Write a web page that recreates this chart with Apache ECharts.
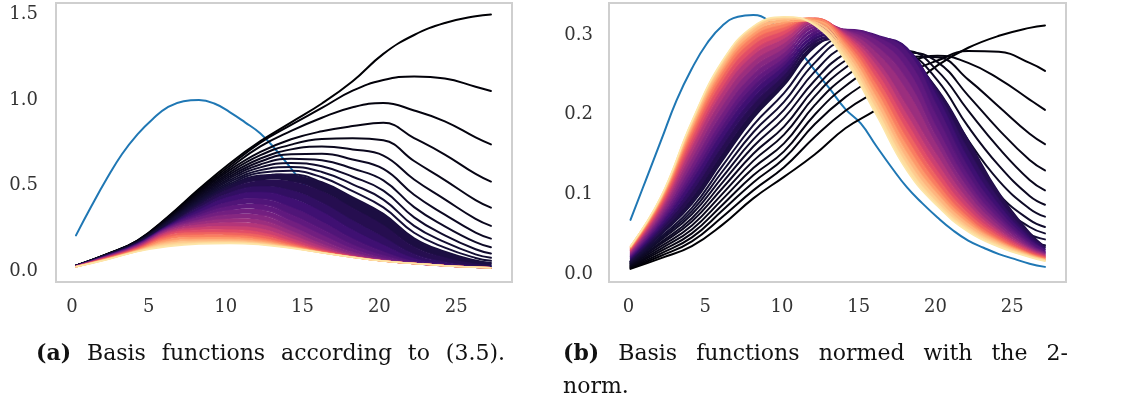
<!DOCTYPE html>
<html>
<head>
<meta charset="utf-8">
<script src="https://cdn.jsdelivr.net/npm/echarts@6/dist/echarts.min.js"></script>
<style>
  html, body { margin: 0; padding: 0; background: #ffffff; }
  #chart { width: 1122px; height: 408px; }
</style>
</head>
<body>
<div id="chart"></div>
<script>
// ---- data -------------------------------------------------------------

// horizontal sample positions of the basis functions
const knots = [0, 2, 4, 6, 8, 10, 12, 14, 16, 18, 20, 22, 24, 26, 27];

// reference bump (blue), sampled on the integers 0..27
const blueX = [0,1,2,3,4,5,6,7,8,9,10,11,12,13,14,15,16,17,18,19,20,21,22,23,24,25,26,27];
const blueRaw = [0.21,0.38,0.54,0.685,0.80,0.89,0.96,0.993,1.0,0.98,0.93,0.87,0.805,0.71,0.60,0.49,0.41,0.35,0.29,0.235,0.19,0.15,0.12,0.095,0.075,0.058,0.042,0.03];
const blueNormed = [0.068,0.118,0.168,0.218,0.258,0.290,0.312,0.323,0.325,0.318,0.300,0.280,0.256,0.232,0.207,0.189,0.161,0.134,0.109,0.089,0.071,0.055,0.042,0.033,0.025,0.019,0.013,0.009];

// tick labels
const xTicks = [0, 5, 10, 15, 20, 25];
const yTicksRaw = [0, 0.5, 1.0, 1.5];
const yTicksNormed = [0, 0.1, 0.2, 0.3];

// colormap position of every family member (dark -> light)
const shadesDark = [0, 0.01, 0.02, 0.03, 0.04, 0.05, 0.06, 0.07, 0.08, 0.09, 0.10, 0.11];
const shadesDense = [0.13, 0.16, 0.19, 0.23, 0.27, 0.31, 0.36, 0.41, 0.46, 0.52, 0.58, 0.64, 0.70, 0.76, 0.82, 0.87, 0.91, 0.95];

// basis functions, raw values at the knots
const rawDark = [
  [0.033,0.100,0.180,0.320,0.480,0.630,0.760,0.870,0.980,1.110,1.270,1.380,1.450,1.490,1.500],
  [0.033,0.099,0.179,0.316,0.472,0.616,0.751,0.855,0.954,1.055,1.117,1.138,1.126,1.078,1.053],
  [0.033,0.099,0.177,0.312,0.464,0.603,0.729,0.820,0.897,0.958,0.983,0.939,0.876,0.782,0.741],
  [0.033,0.098,0.176,0.308,0.456,0.591,0.697,0.771,0.818,0.848,0.867,0.778,0.682,0.569,0.524],
  [0.033,0.098,0.174,0.304,0.448,0.578,0.678,0.740,0.772,0.777,0.765,0.644,0.533,0.416,0.372],
  [0.033,0.097,0.173,0.300,0.441,0.566,0.659,0.712,0.729,0.712,0.676,0.536,0.420,0.306,0.265],
  [0.033,0.096,0.172,0.297,0.434,0.554,0.641,0.684,0.687,0.653,0.598,0.447,0.331,0.226,0.191],
  [0.032,0.096,0.171,0.293,0.426,0.543,0.624,0.658,0.649,0.600,0.531,0.375,0.263,0.170,0.140],
  [0.032,0.095,0.169,0.290,0.419,0.532,0.607,0.633,0.613,0.552,0.471,0.315,0.210,0.129,0.104],
  [0.032,0.095,0.168,0.286,0.413,0.521,0.591,0.609,0.580,0.508,0.419,0.265,0.170,0.099,0.079],
  [0.032,0.094,0.167,0.283,0.406,0.510,0.575,0.587,0.549,0.468,0.373,0.225,0.138,0.078,0.061],
  [0.032,0.093,0.166,0.279,0.399,0.500,0.559,0.566,0.520,0.432,0.335,0.193,0.114,0.063,0.049]
];
const rawDense = [
  [0.031,0.092,0.164,0.272,0.386,0.482,0.530,0.525,0.467,0.370,0.269,0.144,0.081,0.044,0.035],
  [0.031,0.091,0.162,0.268,0.372,0.458,0.495,0.472,0.401,0.296,0.199,0.100,0.055,0.032,0.026],
  [0.031,0.090,0.160,0.265,0.358,0.435,0.462,0.426,0.347,0.241,0.153,0.075,0.043,0.027,0.023],
  [0.030,0.089,0.158,0.262,0.342,0.406,0.424,0.374,0.289,0.190,0.114,0.058,0.037,0.025,0.021],
  [0.030,0.088,0.156,0.258,0.328,0.380,0.390,0.331,0.246,0.155,0.092,0.051,0.034,0.024,0.021],
  [0.030,0.087,0.154,0.254,0.315,0.356,0.360,0.295,0.212,0.131,0.078,0.048,0.034,0.024,0.021],
  [0.029,0.086,0.151,0.249,0.300,0.330,0.327,0.262,0.182,0.112,0.069,0.046,0.033,0.024,0.021],
  [0.029,0.084,0.148,0.243,0.286,0.306,0.298,0.235,0.160,0.101,0.065,0.045,0.033,0.024,0.021],
  [0.028,0.083,0.145,0.236,0.272,0.284,0.273,0.213,0.145,0.093,0.062,0.045,0.033,0.024,0.021],
  [0.028,0.081,0.141,0.228,0.256,0.262,0.248,0.192,0.132,0.088,0.061,0.045,0.033,0.024,0.021],
  [0.028,0.079,0.137,0.219,0.241,0.242,0.227,0.176,0.124,0.086,0.061,0.045,0.033,0.024,0.021],
  [0.027,0.077,0.133,0.209,0.226,0.225,0.210,0.164,0.118,0.084,0.060,0.045,0.033,0.024,0.021],
  [0.027,0.075,0.129,0.198,0.212,0.210,0.195,0.155,0.114,0.083,0.060,0.045,0.033,0.024,0.021],
  [0.027,0.073,0.125,0.186,0.198,0.197,0.183,0.148,0.112,0.083,0.060,0.045,0.033,0.024,0.021],
  [0.027,0.071,0.121,0.174,0.185,0.185,0.172,0.143,0.110,0.082,0.060,0.045,0.033,0.024,0.021],
  [0.026,0.070,0.119,0.164,0.175,0.176,0.165,0.139,0.109,0.082,0.060,0.045,0.033,0.024,0.021],
  [0.026,0.069,0.117,0.155,0.167,0.170,0.160,0.137,0.108,0.082,0.060,0.045,0.033,0.024,0.021],
  [0.026,0.068,0.115,0.145,0.160,0.163,0.155,0.135,0.108,0.082,0.060,0.045,0.033,0.024,0.021]
];

// the same functions after division by their 2-norm
const normedDark = [
  [0.0065,0.020,0.035,0.062,0.095,0.122,0.150,0.183,0.206,0.232,0.262,0.284,0.299,0.309,0.312],
  [0.0075,0.023,0.041,0.072,0.105,0.134,0.172,0.205,0.229,0.252,0.268,0.280,0.279,0.265,0.255],
  [0.0085,0.026,0.046,0.080,0.115,0.145,0.188,0.222,0.247,0.265,0.274,0.265,0.245,0.219,0.206],
  [0.0095,0.029,0.051,0.087,0.124,0.154,0.200,0.236,0.260,0.273,0.272,0.244,0.210,0.176,0.163],
  [0.0105,0.032,0.056,0.094,0.133,0.164,0.212,0.248,0.270,0.278,0.266,0.224,0.181,0.143,0.130],
  [0.0115,0.035,0.061,0.101,0.142,0.175,0.223,0.259,0.279,0.280,0.255,0.205,0.158,0.118,0.105],
  [0.0125,0.038,0.066,0.108,0.151,0.185,0.233,0.268,0.285,0.278,0.243,0.185,0.136,0.098,0.087],
  [0.0130,0.040,0.070,0.115,0.160,0.196,0.243,0.277,0.290,0.274,0.230,0.168,0.117,0.082,0.072],
  [0.0140,0.043,0.075,0.122,0.169,0.206,0.254,0.286,0.293,0.268,0.216,0.151,0.100,0.068,0.059],
  [0.0150,0.045,0.079,0.129,0.178,0.216,0.265,0.292,0.293,0.262,0.203,0.137,0.088,0.059,0.051],
  [0.0155,0.047,0.083,0.136,0.187,0.227,0.275,0.297,0.292,0.254,0.190,0.124,0.077,0.050,0.0435],
  [0.0160,0.050,0.088,0.143,0.196,0.237,0.285,0.300,0.290,0.245,0.177,0.112,0.067,0.042,0.036]
];
const normedDense = [
  [0.0173,0.0534,0.0953,0.1518,0.2040,0.243,0.289,0.295,0.288,0.272,0.232,0.168,0.102,0.052,0.034],
  [0.0189,0.0572,0.1036,0.1618,0.2133,0.250,0.293,0.299,0.294,0.279,0.228,0.156,0.094,0.048,0.033],
  [0.0202,0.0606,0.1109,0.1705,0.2213,0.256,0.297,0.303,0.298,0.284,0.222,0.145,0.087,0.045,0.031],
  [0.0215,0.0639,0.1182,0.1793,0.2294,0.262,0.301,0.306,0.300,0.280,0.210,0.134,0.080,0.042,0.030],
  [0.0227,0.0668,0.1244,0.1868,0.2363,0.267,0.305,0.307,0.298,0.270,0.196,0.124,0.074,0.039,0.028],
  [0.0238,0.0697,0.1306,0.1943,0.2432,0.272,0.309,0.307,0.294,0.258,0.182,0.115,0.069,0.037,0.027],
  [0.0251,0.0730,0.1379,0.2030,0.2512,0.278,0.312,0.306,0.286,0.244,0.170,0.107,0.064,0.035,0.026],
  [0.0265,0.0764,0.1452,0.2118,0.2593,0.284,0.315,0.305,0.278,0.230,0.160,0.100,0.060,0.033,0.025],
  [0.0278,0.0798,0.1525,0.2205,0.2673,0.290,0.317,0.303,0.269,0.211,0.148,0.093,0.056,0.032,0.024],
  [0.0291,0.0831,0.1598,0.2293,0.2754,0.296,0.319,0.301,0.262,0.200,0.138,0.087,0.053,0.030,0.023],
  [0.0301,0.0855,0.1650,0.2355,0.2811,0.301,0.320,0.299,0.254,0.190,0.129,0.081,0.050,0.029,0.022],
  [0.0312,0.0884,0.1712,0.2430,0.2880,0.306,0.321,0.296,0.246,0.180,0.121,0.076,0.047,0.027,0.021],
  [0.0322,0.0908,0.1764,0.2493,0.2938,0.310,0.321,0.292,0.238,0.170,0.113,0.071,0.044,0.026,0.020],
  [0.0330,0.0930,0.1811,0.2549,0.2989,0.314,0.320,0.288,0.230,0.161,0.106,0.067,0.042,0.025,0.019],
  [0.0337,0.0946,0.1847,0.2593,0.3030,0.317,0.318,0.283,0.222,0.152,0.100,0.063,0.040,0.024,0.018],
  [0.0343,0.0963,0.1884,0.2636,0.3070,0.320,0.316,0.278,0.214,0.144,0.094,0.059,0.038,0.023,0.018],
  [0.0348,0.0975,0.1910,0.2668,0.3099,0.322,0.314,0.273,0.207,0.137,0.089,0.056,0.036,0.022,0.017],
  [0.0350,0.0980,0.1920,0.2680,0.3110,0.323,0.312,0.268,0.200,0.130,0.085,0.053,0.034,0.021,0.016]
];

// ---- styling helpers ----------------------------------------------------

const MAGMA = ['#000004','#140e36','#3b0f70','#641a80','#8c2981','#b73779',
               '#de4968','#f7705c','#fe9f6d','#fecf92','#fcfdbf'];
function hexToRgb(h) {
  return [parseInt(h.slice(1,3),16), parseInt(h.slice(3,5),16), parseInt(h.slice(5,7),16)];
}
function magma(t) {
  const p = Math.max(0, Math.min(1, t)) * (MAGMA.length - 1);
  const i = Math.min(MAGMA.length - 2, Math.floor(p));
  const f = p - i;
  const a = hexToRgb(MAGMA[i]), b = hexToRgb(MAGMA[i + 1]);
  const c = a.map((v, k) => Math.round(v + (b[k] - v) * f));
  return 'rgb(' + c.join(',') + ')';
}
function pairs(xs, ys) { return xs.map((x, i) => [x, ys[i]]); }

const BLUE = '#1f77b4';
const FONT = 'DejaVu Serif';
const SMOOTH = 0.45;

// drawing order: blue, dark family, then the dense part one member at a time,
// each member preceded by the fill between it and its darker neighbour
const Z_BLUE = 2, Z_DARK = 3, Z_CHAIN = 10;

function curve(panel, xs, ys, color, width, z) {
  return {
    type: 'line',
    xAxisIndex: panel, yAxisIndex: panel,
    data: pairs(xs, ys),
    showSymbol: false, symbol: 'none',
    smooth: SMOOTH,
    lineStyle: { color: color, width: width, cap: 'round', join: 'round' },
    itemStyle: { color: color },
    emphasis: { disabled: true },
    silent: true, clip: true, z: z
  };
}

// fill between two neighbouring members of the family
function gapFill(panel, up, lo, color, z) {
  return {
    type: 'custom',
    coordinateSystem: 'cartesian2d',
    xAxisIndex: panel, yAxisIndex: panel,
    data: [0],
    silent: true, clip: true, z: z,
    renderItem: function (params, api) {
      const pts = [];
      for (let j = 0; j < knots.length; j++) pts.push(api.coord([knots[j], up[j]]));
      for (let j = knots.length - 1; j >= 0; j--) pts.push(api.coord([knots[j], lo[j]]));
      return {
        type: 'polygon',
        shape: { points: pts, smooth: SMOOTH },
        style: { fill: color, stroke: null }
      };
    }
  };
}

function panelSeries(panel, blue, dark, dense) {
  const out = [];
  out.push(curve(panel, blueX, blue, BLUE, 2, Z_BLUE));
  dark.forEach((ys, i) => out.push(curve(panel, knots, ys, magma(shadesDark[i]), 2, Z_DARK)));
  const chain = [dark[dark.length - 1]].concat(dense);
  const shades = [shadesDark[shadesDark.length - 1]].concat(shadesDense);
  for (let k = 1; k < chain.length; k++) {
    const mid = magma((shades[k - 1] + shades[k]) / 2);
    out.push(gapFill(panel, chain[k - 1], chain[k], mid, Z_CHAIN + 2 * k - 1));
    out.push(curve(panel, knots, chain[k], magma(shades[k]), 1.5, Z_CHAIN + 2 * k));
  }
  return out;
}

const series = panelSeries(0, blueRaw, rawDark, rawDense)
  .concat(panelSeries(1, blueNormed, normedDark, normedDense));

function xAxis(grid, min, max, shift) {
  return {
    type: 'value', gridIndex: grid, min: min, max: max,
    axisLine: { show: false }, axisTick: { show: false }, splitLine: { show: false },
    axisLabel: {
      customValues: xTicks, margin: 16, color: '#333', fontFamily: FONT, fontSize: 18,
      padding: [0, shift, 0, 0],
      formatter: v => String(v)
    }
  };
}
function yAxis(grid, min, max, ticks, margin) {
  return {
    type: 'value', gridIndex: grid, min: min, max: max,
    axisLine: { show: false }, axisTick: { show: false }, splitLine: { show: false },
    axisLabel: {
      customValues: ticks, margin: margin, color: '#333', fontFamily: FONT, fontSize: 18,
      formatter: v => v.toFixed(1)
    }
  };
}

// ---- captions -----------------------------------------------------------

const measureCtx = document.createElement('canvas').getContext('2d');
function textWidth(str, px, bold) {
  measureCtx.font = (bold ? 'bold ' : '') + px + 'px "' + FONT + '"';
  return measureCtx.measureText(str).width;
}
function capWord(text, x, y, px, bold) {
  return {
    type: 'text', x: x, y: y, silent: true,
    style: {
      text: text, fill: '#111',
      font: (bold ? 'bold ' : '') + px + 'px "' + FONT + '"',
      align: 'left', verticalAlign: 'middle',
      textAlign: 'left', textVerticalAlign: 'middle'
    }
  };
}
// one caption line whose words are spread between two edges
function spreadLine(words, boldFirst, x0, x1, y, px) {
  const widths = words.map((w, i) => textWidth(w, px, boldFirst && i === 0));
  const total = widths.reduce((a, b) => a + b, 0);
  const gap = (x1 - x0 - total) / (words.length - 1);
  const out = [];
  let x = x0;
  words.forEach((w, i) => {
    out.push(capWord(w, x, y, px, boldFirst && i === 0));
    x += widths[i] + gap;
  });
  return out;
}
const CAP_PX = 22;
const captionA = ['(a)', 'Basis', 'functions', 'according', 'to', '(3.5).'];
const captionB1 = ['(b)', 'Basis', 'functions', 'normed', 'with', 'the', '2-'];
const graphics = []
  .concat(spreadLine(captionA, true, 36, 505, 354, CAP_PX))
  .concat(spreadLine(captionB1, true, 563, 1068, 354, CAP_PX))
  .concat([capWord('norm.', 563, 387, CAP_PX, false)]);

const option = {
  animation: false,
  backgroundColor: '#ffffff',
  grid: [
    { left: 56, top: 3, width: 456, height: 279, show: true, borderColor: '#cfcfcf', borderWidth: 2,
      backgroundColor: '#ffffff', containLabel: false, outerBoundsMode: 'none' },
    { left: 609, top: 3, width: 457, height: 279, show: true, borderColor: '#cfcfcf', borderWidth: 2,
      backgroundColor: '#ffffff', containLabel: false, outerBoundsMode: 'none' }
  ],
  xAxis: [ xAxis(0, -1.3, 28.37, 8), xAxis(1, -1.4, 28.37, 4) ],
  yAxis: [ yAxis(0, -0.0625, 1.567, yTicksRaw, 18), yAxis(1, -0.01, 0.3402, yTicksNormed, 16) ],
  series: series,
  graphic: graphics
};

const chart = echarts.init(document.getElementById('chart'), null, { renderer: 'canvas' });
chart.setOption(option);
</script>
</body>
</html>
